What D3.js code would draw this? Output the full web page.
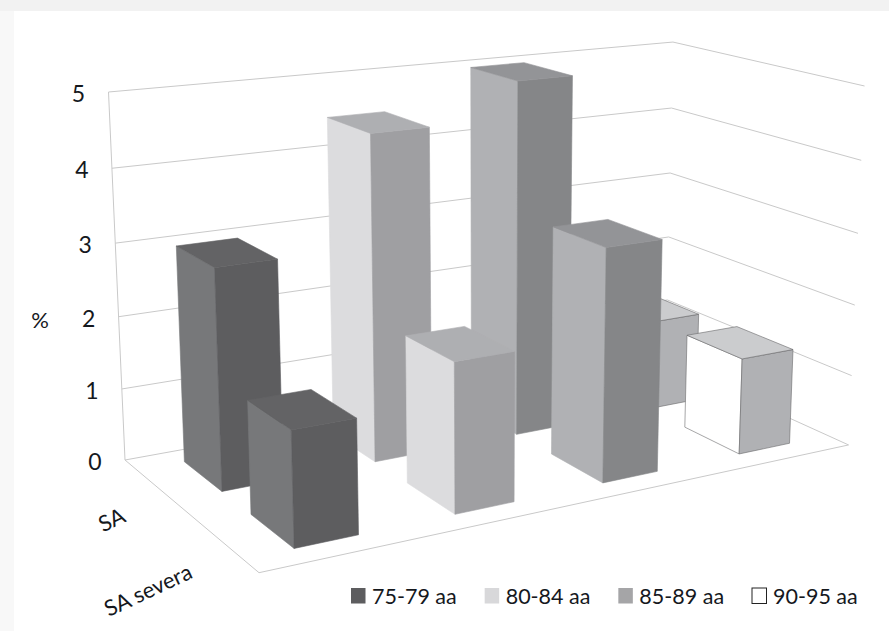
<!DOCTYPE html>
<html>
<head>
<meta charset="utf-8">
<script src="https://d3js.org/d3.v7.min.js"></script>
<style>
    html, body { margin: 0; padding: 0; background: #fff; }
    svg { display: block; }
    text { font-family: Lato, "Open Sans", sans-serif; fill: #15181d; }
</style>
</head>
<body>
<svg width="889" height="631"></svg>
<script>
"use strict";

var ageGroups = ["75-79 aa", "80-84 aa", "85-89 aa", "90-95 aa"];
var categories = ["SA", "SA severa"];
var saValues = [2.98, 4.48, 4.98, 1.3];
var saSeveraValues = [1.5, 2.0, 3.17, 1.35];
var valueTicks = [0, 1, 2, 3, 4, 5];
var valueTitle = "%";

// Face colours per age group: side, front, top, legend swatch
var faceColors = [
    { side: "#77787a", front: "#5d5d5f", top: "#636365", swatch: "#5d5d5f" },
    { side: "#dcdcde", front: "#9f9fa2", top: "#aeafb2", swatch: "#d8d8da" },
    { side: "#b0b1b4", front: "#858688", top: "#939497", swatch: "#a5a5a7" },
    { side: "#ffffff", front: "#b0b1b4", top: "#cbccce", swatch: "#ffffff" }
];

// Scales into the unit box of the plot
var xScale = d3.scaleBand().domain(ageGroups).range([0, 1]).paddingInner(0.61).paddingOuter(0.3);
var zScale = d3.scaleBand().domain(categories).range([0, 1]).paddingInner(0.42).paddingOuter(0.21);
var yScale = d3.scaleLinear().domain([0, 5]).range([0, 1]);

// Perspective: screen position of the box corners and the depth terms
var origin = [125, 460], cornerX = [666, 362], cornerY = [108.5, 92], cornerZ = [259, 572.7];
var depthX = 0.157, depthY = -0.0435, depthZ = -0.131;

var project = function(x, v, z) {
    var y = yScale(v);
    var w = 1 + depthX * x + depthY * y + depthZ * z;
    return [0, 1].map(function(i) {
        return (origin[i]
            + x * (cornerX[i] * (1 + depthX) - origin[i])
            + y * (cornerY[i] * (1 + depthY) - origin[i])
            + z * (cornerZ[i] * (1 + depthZ) - origin[i])) / w;
    });
};

var svg = d3.select("svg");
var outline = d3.line();

// Grey page edge around the white panel
svg.append("rect").attr("width", 889).attr("height", 11).attr("fill", "#f2f2f2");
svg.append("rect").attr("y", 11).attr("width", 14).attr("height", 620).attr("fill", "#f8f8f8");

// Walls and floor
var grid = svg.append("g")
    .attr("class", "grid")
    .attr("fill", "none")
    .attr("stroke", "#c9c9c9")
    .attr("stroke-width", 1);

grid.selectAll("path.tick")
    .data(valueTicks)
    .enter().append("path")
    .attr("class", "tick")
    .attr("d", function(v) {
        return outline([project(0, v, 0), project(1, v, 0), project(1, v, 1)]);
    });

grid.append("path")
    .attr("d", outline([project(0, 5, 0), project(0, 0, 0), project(0, 0, 1), project(1, 0, 1)]));

// Bars, back row first
var bars = [];
categories.forEach(function(category, c) {
    var values = c === 0 ? saValues : saSeveraValues;
    ageGroups.forEach(function(group, g) {
        bars.push({ group: group, category: category, value: values[g], colors: faceColors[g] });
    });
});

var barGroups = svg.append("g")
    .attr("class", "bars")
    .selectAll("g")
    .data(bars)
    .enter().append("g");

var faces = function(d) {
    var x0 = xScale(d.group), x1 = x0 + xScale.bandwidth();
    var z0 = zScale(d.category), z1 = z0 + zScale.bandwidth();
    return [
        { fill: d.colors.side, pts: [project(x0, 0, z0), project(x0, 0, z1), project(x0, d.value, z1), project(x0, d.value, z0)] },
        { fill: d.colors.front, pts: [project(x0, 0, z1), project(x1, 0, z1), project(x1, d.value, z1), project(x0, d.value, z1)] },
        { fill: d.colors.top, pts: [project(x0, d.value, z0), project(x1, d.value, z0), project(x1, d.value, z1), project(x0, d.value, z1)] }
    ];
};

barGroups.selectAll("path")
    .data(faces)
    .enter().append("path")
    .attr("d", function(f) { return outline(f.pts) + "Z"; })
    .attr("fill", function(f) { return f.fill; })
    .attr("stroke", function(f, i, nodes) {
        // The white bar needs an edge to read against the page
        var d = d3.select(nodes[i].parentNode).datum();
        return d.group === ageGroups[3] ? "#6a6a6c" : f.fill;
    })
    .attr("stroke-width", 0.6);

// Value axis labels
svg.append("g")
    .attr("class", "value-axis")
    .selectAll("text")
    .data(valueTicks)
    .enter().append("text")
    .attr("x", function(v) { return project(0, v, 0)[0] - 30; })
    .attr("y", function(v) { return project(0, v, 0)[1] + 10; })
    .attr("text-anchor", "middle")
    .style("font-size", "23px")
    .text(function(v) { return v; });

svg.append("text")
    .attr("x", 40)
    .attr("y", 328)
    .attr("text-anchor", "middle")
    .style("font-size", "22px")
    .text(valueTitle);

// Category labels along the floor edge
svg.append("g")
    .attr("class", "category-axis")
    .selectAll("text")
    .data(categories)
    .enter().append("text")
    .attr("transform", function(c) {
        var p = project(0, 0, zScale(c) + zScale.bandwidth() / 2);
        return "translate(" + (p[0] - 28) + "," + (p[1] + 36) + ") rotate(-25)";
    })
    .attr("text-anchor", "end")
    .style("font-size", "22px")
    .text(function(c) { return c; });

// Legend
var legendX = d3.scalePoint().domain(ageGroups).range([351, 752]);

var legend = svg.append("g")
    .attr("class", "legend")
    .selectAll("g")
    .data(ageGroups)
    .enter().append("g")
    .attr("transform", function(g) { return "translate(" + legendX(g) + ",588)"; });

legend.append("rect")
    .attr("width", 14.5)
    .attr("height", 15.5)
    .attr("fill", function(g, i) { return faceColors[i].swatch; })
    .attr("stroke", function(g, i) { return i === 3 ? "#222" : "none"; })
    .attr("stroke-width", 1);

legend.append("text")
    .attr("x", 21)
    .attr("y", 15.5)
    .style("font-size", "21.5px")
    .text(function(g) { return g; });
</script>
</body>
</html>
